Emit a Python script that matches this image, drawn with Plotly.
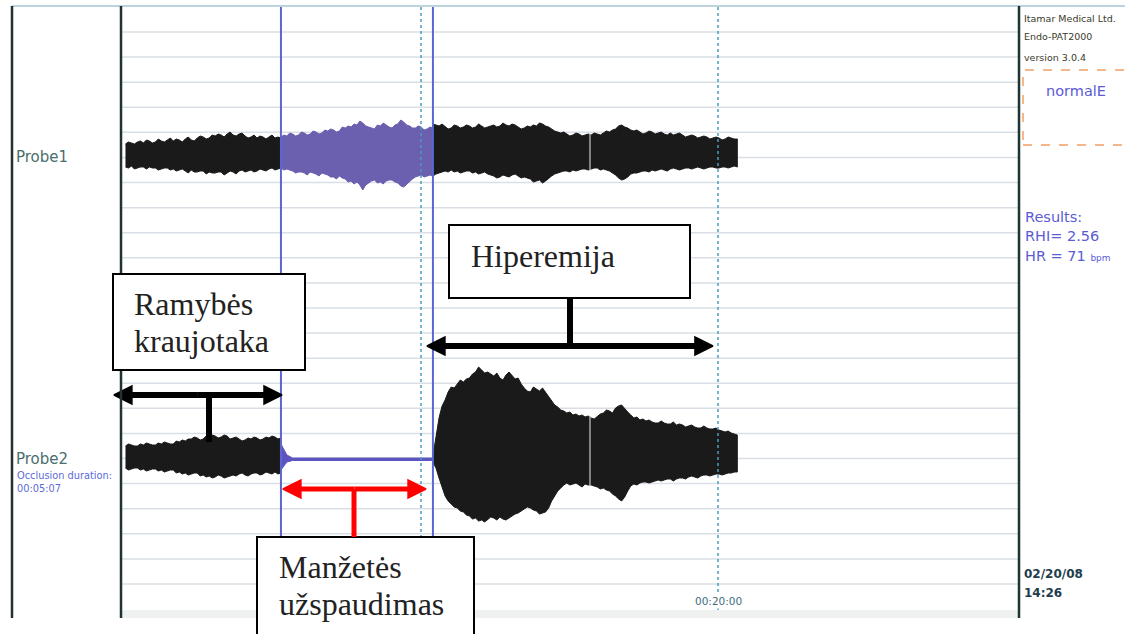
import numpy as np
import plotly.graph_objects as go

W, H = 1125, 634

# ---------------------------------------------------------------- data
# recording time in minutes
T_START = 0.05
T_OCC_ON = 5.285                 # cuff inflation
OCC_DURATION_S = 307             # 00:05:07
T_OCC_OFF = T_OCC_ON + OCC_DURATION_S / 60.0
T_END = 20.65
T_EVENT = 15.69                  # event marker in both channels
TIME_MARKS = [10, 20]            # dotted time marks (min)
TIME_LABELS = {20: "00:20:00"}

# Probe1 (reference finger) pulse-amplitude envelope, a.u.
P1_REST_UP = [11, 13, 12, 11, 13, 14, 12, 15, 14, 12, 13, 16, 14, 13, 15, 17, 14, 16, 15, 13,
              16, 18, 15, 14, 17, 19, 18, 16, 17, 20, 19, 21, 20, 18, 21, 23, 20, 19, 21, 22,
              19, 17, 18, 20, 17, 19, 18, 16, 18, 20, 17, 18, 17]
P1_REST_LO = [-12, -13, -11, -14, -13, -12, -12, -14, -12, -13, -13, -15, -14, -13, -13, -15,
              -14, -16, -15, -14, -16, -18, -15, -17, -17, -16, -16, -19, -17, -18, -18, -17,
              -17, -20, -18, -16, -17, -19, -16, -15, -17, -16, -15, -17, -16, -14, -15, -16,
              -14, -13, -15, -14, -13]
P1_OCC_UP = [18, 20, 19, 22, 21, 19, 20, 23, 22, 20, 21, 24, 23, 21, 22, 25, 24, 26, 25, 23,
             24, 28, 27, 29, 28, 31, 30, 34, 32, 29, 28, 27, 26, 30, 29, 32, 30, 28, 27, 30,
             31, 35, 33, 30, 29, 27, 27, 29, 28, 25, 26, 28, 27]
P1_OCC_LO = [-13, -15, -14, -15, -16, -18, -17, -17, -18, -20, -17, -18, -19, -21, -18, -19,
             -20, -22, -22, -24, -21, -23, -24, -27, -26, -29, -27, -30, -35, -30, -28, -26,
             -25, -28, -27, -29, -26, -25, -25, -27, -28, -31, -32, -29, -27, -24, -22, -21,
             -20, -22, -21, -20, -21]
P1_POST_UP = [31, 30, 29, 31, 28, 26, 27, 30, 29, 27, 28, 30, 29, 27, 28, 31, 29, 27, 28, 29,
              30, 28, 29, 32, 30, 29, 31, 30, 28, 26, 27, 29, 28, 30, 29, 32, 31, 29, 28, 26,
              24, 23, 22, 23, 21, 19, 20, 22, 21, 19, 20, 21, 20, 22, 21, 20, 22, 24, 23, 25,
              26, 29, 30, 28, 27, 25, 24, 25, 23, 21, 22, 24, 23, 21, 22, 23, 21, 20, 22, 20,
              21, 22, 20, 18, 19, 20, 19, 17, 18, 19, 18, 16, 17, 18, 17, 15, 16, 18, 17, 16,
              16]
P1_POST_LO = [-21, -19, -18, -17, -16, -17, -15, -17, -16, -18, -17, -16, -16, -18, -17, -19,
              -18, -17, -19, -20, -21, -23, -22, -20, -21, -22, -20, -19, -21, -23, -22, -23,
              -24, -27, -26, -25, -28, -26, -24, -21, -19, -18, -17, -16, -16, -17, -15, -16,
              -15, -14, -14, -15, -14, -13, -13, -15, -14, -15, -16, -18, -20, -23, -25, -24,
              -22, -19, -18, -18, -17, -16, -16, -17, -15, -16, -15, -14, -15, -16, -14, -13,
              -14, -15, -14, -13, -13, -14, -13, -12, -13, -14, -13, -12, -12, -13, -13, -12,
              -12, -13, -12, -11, -12]

# Probe2 (occluded arm) pulse-amplitude envelope, a.u.
P2_REST_UP = [12, 14, 13, 12, 12, 14, 13, 15, 14, 13, 13, 15, 14, 16, 15, 14, 14, 17, 16, 18,
              17, 19, 19, 21, 20, 18, 19, 22, 21, 23, 22, 20, 21, 23, 22, 19, 20, 21, 19, 17,
              18, 20, 19, 21, 20, 18, 19, 21, 20, 22, 21, 19, 20]
P2_REST_LO = [-10, -12, -11, -10, -10, -12, -11, -13, -12, -11, -11, -13, -12, -14, -13, -12,
              -12, -15, -14, -16, -15, -17, -16, -15, -15, -18, -17, -19, -18, -20, -19, -17,
              -18, -20, -19, -18, -17, -18, -16, -15, -17, -18, -16, -15, -15, -17, -16, -14,
              -15, -16, -14, -16, -15]
P2_OCC_UP = [14, 3, 0, 0, 0, 0, 0, 0, 0, 0, 0, 0, 0, 0, 0, 0, 0, 0, 0, 0, 0, 0, 0, 0, 0, 0, 0]
P2_OCC_LO = [-12, -4, -2.5, -2.5, -2.5, -2.5, -2.5, -2.5, -2.5, -2.5, -2.5, -2.5, -2.5, -2.5,
             -2.5, -2.5, -2.5, -2.5, -2.5, -2.5, -2.5, -2.5, -2.5, -2.5, -2.5, -2.5, -2.5]
P2_POST_UP = [2, 22, 40, 52, 58, 66, 71, 70, 74, 78, 76, 79, 80, 84, 86, 91, 88, 85, 86, 84,
              82, 85, 80, 78, 83, 86, 82, 79, 80, 74, 70, 67, 66, 71, 69, 67, 70, 66, 62, 57,
              53, 51, 48, 47, 45, 46, 43, 44, 42, 43, 41, 42, 40, 39, 42, 44, 45, 48, 47, 45,
              50, 52, 53, 49, 46, 43, 40, 41, 38, 39, 37, 38, 36, 35, 35, 37, 35, 34, 34, 36,
              33, 34, 33, 31, 32, 33, 31, 30, 30, 32, 30, 29, 29, 30, 28, 27, 26, 27, 25, 24,
              23]
P2_POST_LO = [-4, -10, -20, -30, -38, -43, -46, -49, -50, -53, -54, -57, -58, -61, -60, -63,
              -62, -64, -62, -59, -60, -62, -59, -61, -62, -60, -58, -56, -55, -53, -51, -49,
              -50, -52, -53, -56, -55, -54, -50, -43, -38, -33, -30, -27, -25, -27, -26, -25,
              -27, -29, -26, -27, -27, -28, -29, -31, -30, -32, -33, -36, -38, -41, -43, -39,
              -33, -28, -26, -27, -25, -24, -24, -25, -24, -23, -22, -23, -22, -21, -21, -23,
              -21, -20, -20, -21, -19, -18, -19, -20, -18, -17, -17, -18, -17, -16, -16, -17,
              -16, -15, -15, -14, -14]

# annotated phases (min)
REST_SPAN = (-0.34, 5.32)
OCC_SPAN = (5.35, 10.17)
HYPER_SPAN = (10.20, 19.83)

# ---------------------------------------------------------------- layout helpers
X0_PX, PX_PER_MIN = 124, 29.7          # time 0 column and scale
P1_ROW, P2_ROW = 155, 458              # channel baselines (screen rows)
PLOT_L, PLOT_R, PLOT_T, PLOT_B = 122, 1019, 7, 610


def px(x):
    return x / W


def py(y):
    return 1 - y / H


BLACK = "#1a1a1a"
PURPLE = "#6b5faf"
EVENT_BLUE = "#5b67cf"
DOT_TEAL = "#4a9fba"
UI_BLUE = "#5b5bd6"

fig = go.Figure()


def envelope(t, up, lo, color, yaxis):
    t = list(t)
    fig.add_trace(go.Scatter(
        x=t + t[::-1], y=list(up) + list(lo)[::-1], mode="lines",
        fill="toself", fillcolor=color, line=dict(color=color, width=1),
        yaxis=yaxis, hoverinfo="skip", showlegend=False))


def seg_times(t0, t1, values):
    return np.linspace(t0, t1, len(values))


envelope(seg_times(T_START, T_OCC_ON, P1_REST_UP), P1_REST_UP, P1_REST_LO, BLACK, "y")
envelope(seg_times(T_OCC_ON, T_OCC_OFF, P1_OCC_UP), P1_OCC_UP, P1_OCC_LO, PURPLE, "y")
envelope(seg_times(T_OCC_OFF, T_END, P1_POST_UP), P1_POST_UP, P1_POST_LO, BLACK, "y")

envelope(seg_times(T_START, T_OCC_ON, P2_REST_UP), P2_REST_UP, P2_REST_LO, BLACK, "y2")
envelope(seg_times(T_OCC_ON, T_OCC_OFF, P2_OCC_UP), P2_OCC_UP, P2_OCC_LO, "#5d54c0", "y2")
envelope(seg_times(T_OCC_OFF, T_END, P2_POST_UP), P2_POST_UP, P2_POST_LO, BLACK, "y2")

# event marker cutting through both traces
for up, lo, ax in ((P1_POST_UP, P1_POST_LO, "y"), (P2_POST_UP, P2_POST_LO, "y2")):
    tt = seg_times(T_OCC_OFF, T_END, up)
    fig.add_trace(go.Scatter(
        x=[T_EVENT, T_EVENT],
        y=[np.interp(T_EVENT, tt, up) + 1, np.interp(T_EVENT, tt, lo) - 1],
        mode="lines", line=dict(color="#c9c9c9", width=1.2), yaxis=ax,
        hoverinfo="skip", showlegend=False))

# occlusion on/off cursors and dotted time marks
for t in (T_OCC_ON, T_OCC_OFF):
    fig.add_trace(go.Scatter(x=[t, t], y=[PLOT_T, PLOT_B], mode="lines",
                             line=dict(color=EVENT_BLUE, width=2), yaxis="y3",
                             hoverinfo="skip", showlegend=False))
for t in TIME_MARKS:
    fig.add_trace(go.Scatter(x=[t, t], y=[PLOT_T, PLOT_B], mode="lines",
                             line=dict(color=DOT_TEAL, width=1.5, dash="dot"), yaxis="y3",
                             hoverinfo="skip", showlegend=False))


def span_arrow(span, row, color, width, head):
    mid = (span[0] + span[1]) / 2
    for end, sym in ((span[0], "arrow-left"), (span[1], "arrow-right")):
        fig.add_trace(go.Scatter(
            x=[mid, end], y=[row, row], mode="lines+markers", yaxis="y3",
            line=dict(color=color, width=width, backoff=head * 0.55),
            marker=dict(symbol=["circle", sym], size=[0, head], color=color, opacity=1,
                        line=dict(width=1.5, color=color)),
            hoverinfo="skip", showlegend=False))


span_arrow(REST_SPAN, 395, "#000000", 6, 18)
span_arrow(HYPER_SPAN, 346, "#000000", 6, 18)
span_arrow(OCC_SPAN, 489, "#ff0000", 5, 18)

# ---------------------------------------------------------------- frame
shapes = []
gy = 32.0
while gy < PLOT_B - 5:
    shapes.append(dict(type="line", xref="paper", yref="paper", layer="below",
                       x0=px(PLOT_L), x1=px(PLOT_R), y0=py(gy), y1=py(gy),
                       line=dict(color="#d9dfe4", width=1.5)))
    gy += 25.09

shapes += [
    dict(type="rect", xref="paper", yref="paper", layer="below",
         x0=px(PLOT_L), x1=px(PLOT_R), y0=py(PLOT_B), y1=py(618),
         fillcolor="#eef1f0", line=dict(width=0)),
    dict(type="line", xref="paper", yref="paper", x0=px(12), x1=1, y0=py(6), y1=py(6),
         line=dict(color="#a7c6d2", width=1.5)),
    dict(type="line", xref="paper", yref="paper", x0=px(12), x1=px(12), y0=py(6), y1=py(618),
         line=dict(color="#1f3333", width=2.5)),
    dict(type="line", xref="paper", yref="paper", x0=px(121), x1=px(121), y0=py(6), y1=py(618),
         line=dict(color="#1f3333", width=2.5)),
    dict(type="line", xref="paper", yref="paper", x0=px(1019), x1=px(1019), y0=py(6), y1=py(618),
         line=dict(color="#1f3333", width=2.5)),
    dict(type="rect", xref="paper", yref="paper", x0=px(1023), x1=px(1135), y0=py(145), y1=py(70),
         line=dict(color="#f2a064", width=1.5, dash="dash")),
]

# label boxes with their leader stems
BOXES = [
    (113, 305, 274, 370, "black"),
    (449, 690, 225, 298, "black"),
    (257, 474, 537, 660, "black"),
]
for x0, x1, y0, y1, c in BOXES:
    shapes.append(dict(type="rect", xref="paper", yref="paper", layer="above",
                       x0=px(x0), x1=px(x1), y0=py(y1), y1=py(y0),
                       fillcolor="white", line=dict(color=c, width=2)))
STEMS = [
    (209, 395, 442, "black", 6),
    (570, 298, 346, "black", 6),
    (354, 489, 537, "#ff0000", 5),
]
for x, y0, y1, c, w in STEMS:
    shapes.append(dict(type="line", xref="paper", yref="paper", layer="above",
                       x0=px(x), x1=px(x), y0=py(y0), y1=py(y1),
                       line=dict(color=c, width=w)))

# ---------------------------------------------------------------- text
UI = "DejaVu Sans"
SERIF = "Liberation Serif"
ann = []


def text(s, x, y, size, color, family=UI, anchor="left", bg=None):
    d = dict(text=s, x=px(x), y=py(y), xref="paper", yref="paper", showarrow=False,
             xanchor=anchor, yanchor="middle",
             font=dict(family=family, size=size, color=color))
    if bg:
        d["bgcolor"] = bg
    ann.append(d)


text("Probe1", 14, 157, 15, "#4a6e6e")
text("Probe2", 14, 459, 15, "#4a6e6e")
text("Occlusion duration:", 15, 475, 9.8, "#5a6ad8")
text("00:05:07", 15, 488, 9.8, "#5a6ad8")

text("Itamar Medical Ltd.", 1022, 18, 9.5, "#3a3a2a")
text("Endo-PAT2000", 1022, 37, 9.5, "#3a3a2a")
text("version 3.0.4", 1022, 57, 9.5, "#3a3a2a")
text("normalE", 1076, 91, 14.5, UI_BLUE, anchor="center")
text("Results:", 1023, 217, 14.5, UI_BLUE)
text("RHI= 2.56", 1023, 236, 14.5, UI_BLUE)
text("HR = 71 <span style='font-size:9px'>bpm</span>", 1023, 256, 14.5, UI_BLUE)
text("<b>02/20/08</b>", 1022, 574, 12, "#1d3d4d")
text("<b>14:26</b>", 1022, 593, 12, "#1d3d4d")

for t, lab in TIME_LABELS.items():
    ann.append(dict(text=lab, x=t, y=601, xref="x", yref="y3", showarrow=False,
                    xanchor="center", yanchor="middle", bgcolor="white",
                    font=dict(family=UI, size=10.5, color="#3e6e80")))

text("Ramybės", 132, 304, 32, "#222222", SERIF)
text("kraujotaka", 132, 341, 32, "#222222", SERIF)
text("Hiperemija", 469, 256, 32, "#222222", SERIF)
text("Manžetės", 277, 567, 32, "#222222", SERIF)
text("užspaudimas", 277, 604, 32, "#222222", SERIF)

# ---------------------------------------------------------------- axes
x_range = [-X0_PX / PX_PER_MIN, (W - X0_PX) / PX_PER_MIN]
fig.update_layout(
    width=W, height=H, margin=dict(l=0, r=0, t=0, b=0),
    paper_bgcolor="white", plot_bgcolor="white", showlegend=False,
    xaxis=dict(range=x_range, visible=False, domain=[0, 1], fixedrange=True),
    yaxis=dict(range=[P1_ROW - H, P1_ROW], visible=False, domain=[0, 1], fixedrange=True),
    yaxis2=dict(range=[P2_ROW - H, P2_ROW], visible=False, overlaying="y", fixedrange=True),
    yaxis3=dict(range=[H, 0], visible=False, overlaying="y", fixedrange=True),
    shapes=shapes, annotations=ann,
)

fig.write_html("out.html")
